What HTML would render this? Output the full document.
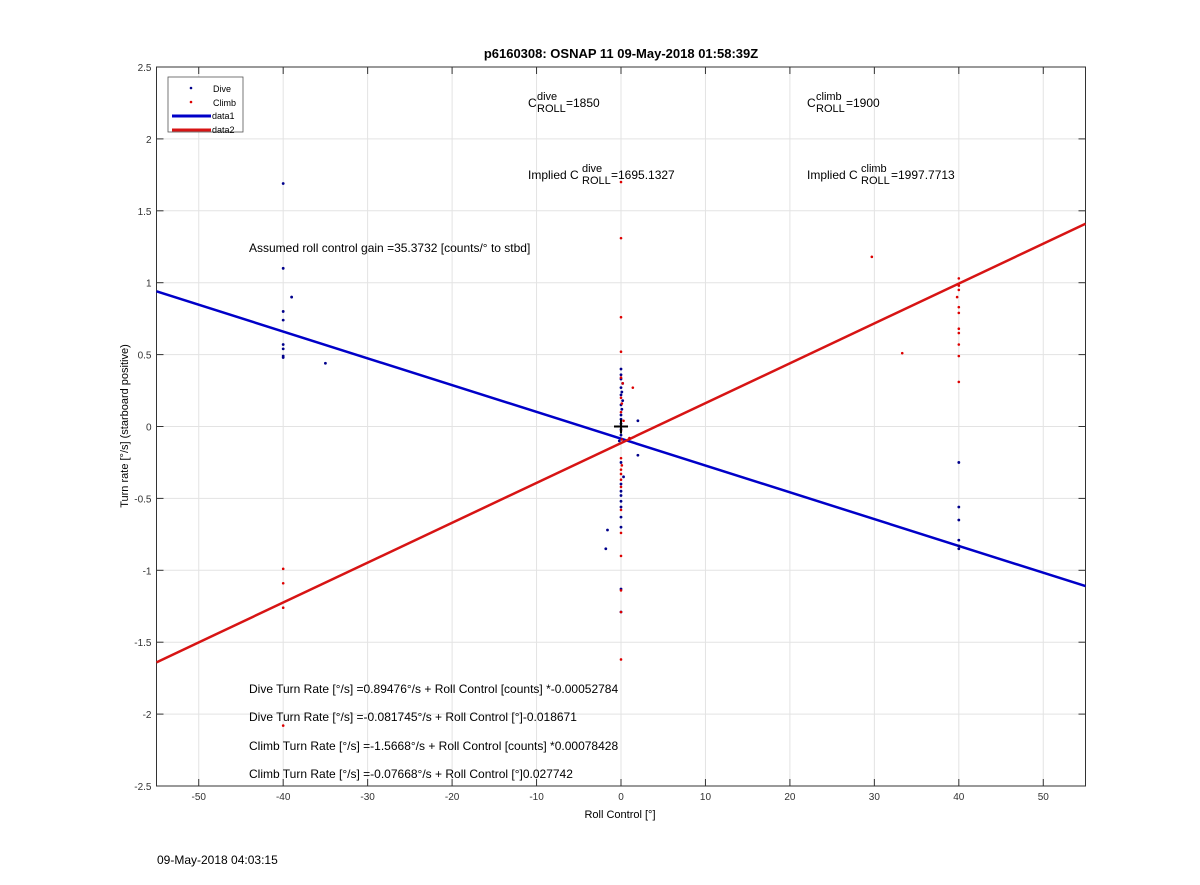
<!DOCTYPE html>
<html><head><meta charset="utf-8"><style>
body{margin:0;background:#fff;}
svg{display:block;font-family:"Liberation Sans",sans-serif;}
</style></head><body>
<svg id="chart" width="1200" height="885" viewBox="0 0 1200 885">
<rect x="0" y="0" width="1200" height="885" fill="#fff"/>
<g id="grid"></g>
<g id="axes"></g>
<g id="marks"></g>
<text x="621" y="58" text-anchor="middle" font-size="13" font-weight="bold">p6160308: OSNAP 11 09-May-2018 01:58:39Z</text>
<text x="620" y="818" text-anchor="middle" font-size="11">Roll Control [°]</text>
<text transform="translate(128,426) rotate(-90)" text-anchor="middle" font-size="11">Turn rate [°/s] (starboard positive)</text>
<g font-size="12">
<text x="528" y="107">C</text><text x="537" y="100" font-size="11">dive</text><text x="537" y="112" font-size="11">ROLL</text><text x="566" y="107">=1850</text>
<text x="807" y="107">C</text><text x="816" y="100" font-size="11">climb</text><text x="816" y="112" font-size="11">ROLL</text><text x="846" y="107">=1900</text>
<text x="528" y="179">Implied C</text><text x="582" y="172" font-size="11">dive</text><text x="582" y="184" font-size="11">ROLL</text><text x="611" y="179">=1695.1327</text>
<text x="807" y="179">Implied C</text><text x="861" y="172" font-size="11">climb</text><text x="861" y="184" font-size="11">ROLL</text><text x="891" y="179">=1997.7713</text>
<text x="249" y="252">Assumed roll control gain =35.3732 [counts/° to stbd]</text>
<text x="249" y="693">Dive Turn Rate [°/s] =0.89476°/s + Roll Control [counts] *-0.00052784</text>
<text x="249" y="721">Dive Turn Rate [°/s] =-0.081745°/s + Roll Control [°]-0.018671</text>
<text x="249" y="750">Climb Turn Rate [°/s] =-1.5668°/s + Roll Control [counts] *0.00078428</text>
<text x="249" y="778">Climb Turn Rate [°/s] =-0.07668°/s + Roll Control [°]0.027742</text>
</g>
<text x="157" y="864" font-size="12">09-May-2018 04:03:15</text>
<g>
<rect x="168" y="77" width="75" height="55" fill="#fff" stroke="#555" stroke-width="0.8"/>
<circle cx="191" cy="88" r="1.3" fill="#00008b"/><text x="213" y="92" font-size="9">Dive</text>
<circle cx="191" cy="102" r="1.3" fill="#d00"/><text x="213" y="106" font-size="9">Climb</text>
<line x1="172" y1="116" x2="211" y2="116" stroke="#0000c8" stroke-width="3"/><text x="212" y="119" font-size="9">data1</text>
<line x1="172" y1="130" x2="211" y2="130" stroke="#d71414" stroke-width="3"/><text x="212" y="133" font-size="9">data2</text>
</g>
</svg>
<script>
const xTicks=[-50,-40,-30,-20,-10,0,10,20,30,40,50];
const yTicks=[-2.5,-2,-1.5,-1,-0.5,0,0.5,1,1.5,2,2.5];
const diveX=[-40,-40,-40,-40,-39,-40,-40,-40,-40,-35,0,0,0,0.2,0,0.1,0,0.2,0,0.1,0,0,0,0,0,-0.2,0,0.3,0,0,0,0,0,0,0,-1.6,-1.8,0,0,2,2,40,40,40,40,40,40];
const diveY=[1.69,1.10,0.80,0.74,0.90,0.57,0.54,0.49,0.48,0.44,0.40,0.36,0.33,0.30,0.27,0.24,0.22,0.18,0.15,0.12,0.08,0.05,0.02,-0.02,-0.06,-0.10,-0.25,-0.35,-0.40,-0.45,-0.48,-0.52,-0.56,-0.63,-0.70,-0.72,-0.85,-1.13,-1.29,0.04,-0.2,-0.25,-0.56,-0.65,-0.79,-0.83,-0.85];
const climbX=[0,0,0,0,1.4,0,0.2,0,0.1,0,0.3,0,0.1,1,0,0.1,0,0,0,0,0,0,0,0,0,0,-40,-40,-40,-40,29.7,33.3,40,40,40,39.8,40,40,40,40,40,40,40];
const climbY=[1.70,1.31,0.76,0.52,0.27,0.34,0.30,0.20,0.16,0.10,0.04,-0.03,-0.09,-0.08,-0.22,-0.27,-0.30,-0.33,-0.37,-0.42,-0.58,-0.74,-0.90,-1.14,-1.29,-1.62,-0.99,-1.09,-1.26,-2.08,1.18,0.51,1.03,0.98,0.95,0.90,0.83,0.79,0.68,0.65,0.57,0.49,0.31];
const fitX=[-55,55];
const diveFitY=[0.94,-1.11];
const climbFitY=[-1.64,1.41];
const X0=156.5,X1=1085.5,Y0=67,Y1=786;
const sx=v=>X0+(v+55)/110*(X1-X0);
const sy=v=>Y1-(v+2.5)/5*(Y1-Y0);
const NS='http://www.w3.org/2000/svg';
function mk(parent,tag,attrs){const e=document.createElementNS(NS,tag);for(const k in attrs)e.setAttribute(k,attrs[k]);document.getElementById(parent).appendChild(e);return e;}
xTicks.forEach(t=>{
 const g=mk('grid','line',{x1:sx(t),x2:sx(t),y1:Y0,y2:Y1,stroke:'#e3e3e3','stroke-width':1});
 
 
 mk('axes','line',{x1:sx(t),x2:sx(t),y1:Y1,y2:Y1-7,stroke:'#333'});
 mk('axes','line',{x1:sx(t),x2:sx(t),y1:Y0,y2:Y0+7,stroke:'#333'});
 const l=mk('axes','text',{x:sx(t),y:Y1+14,'text-anchor':'middle','font-size':10,fill:'#333'});
 l.textContent=t;
 
 
});
yTicks.forEach(t=>{
 const g=mk('grid','line',{x1:X0,x2:X1,y1:sy(t),y2:sy(t),stroke:'#e3e3e3','stroke-width':1});
 
 
 mk('axes','line',{x1:X0,x2:X0+7,y1:sy(t),y2:sy(t),stroke:'#333'});
 mk('axes','line',{x1:X1,x2:X1-7,y1:sy(t),y2:sy(t),stroke:'#333'});
 const l=mk('axes','text',{x:X0-5,y:sy(t)+4,'text-anchor':'end','font-size':10,fill:'#333'});
 l.textContent=t;
 
 
});
const box=mk('axes','rect',{x:X0,y:Y0,width:X1-X0,height:Y1-Y0,fill:'none',stroke:'#333','stroke-width':1});


const l1=mk('marks','line',{x1:sx(fitX[0]),y1:sy(diveFitY[0]),x2:sx(fitX[1]),y2:sy(diveFitY[1]),stroke:'#0000c8','stroke-width':2.5});


const l2=mk('marks','line',{x1:sx(fitX[0]),y1:sy(climbFitY[0]),x2:sx(fitX[1]),y2:sy(climbFitY[1]),stroke:'#d71414','stroke-width':2.5});


diveX.forEach((v,i)=>{
 const c=mk('marks','circle',{cx:sx(v),cy:sy(diveY[i]),r:1.4,fill:'#00008b'});
 
 
});
climbX.forEach((v,i)=>{
 const c=mk('marks','circle',{cx:sx(v),cy:sy(climbY[i]),r:1.3,fill:'#d00'});
 
 
});
const p1=mk('marks','line',{x1:sx(0)-7,x2:sx(0)+7,y1:sy(0),y2:sy(0),stroke:'#000','stroke-width':2});


const p2=mk('marks','line',{x1:sx(0),x2:sx(0),y1:sy(0)-7,y2:sy(0)+7,stroke:'#000','stroke-width':2});


</script>
</body></html>
